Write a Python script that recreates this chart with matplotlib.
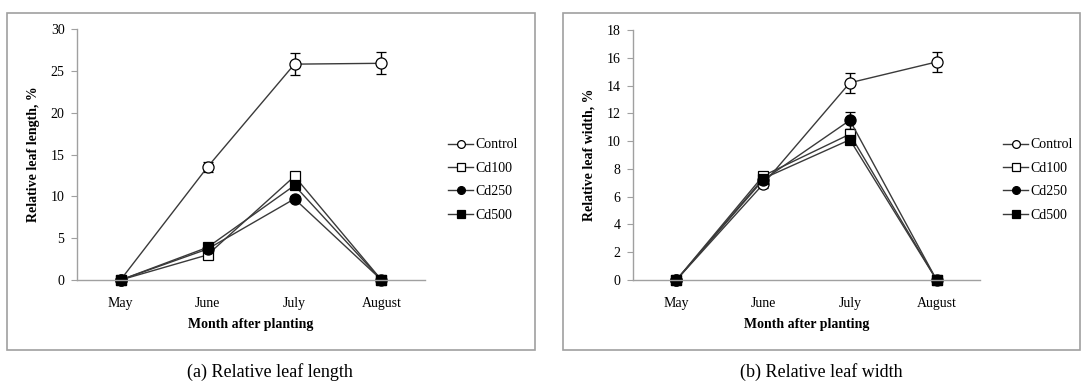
import numpy as np
import matplotlib.pyplot as plt
from matplotlib.patches import Rectangle
from matplotlib.lines import Line2D

plt.rcParams['font.family'] = ['Liberation Serif', 'DejaVu Serif']

months = ["May", "June", "July", "August"]
series = ["Control", "Cd100", "Cd250", "Cd500"]

length_vals = {
    "Control": [0, 13.5, 25.8, 25.9],
    "Cd100": [0, 3.0, 12.4, 0],
    "Cd250": [0, 3.7, 9.7, 0],
    "Cd500": [0, 3.9, 11.3, 0],
}
length_err = {
    "Control": [0, 0.6, 1.3, 1.3],
    "Cd100": [0, 0.3, 0.5, 0],
    "Cd250": [0, 0.2, 0.3, 0],
    "Cd500": [0, 0.2, 0.4, 0],
}
width_vals = {
    "Control": [0, 6.9, 14.2, 15.7],
    "Cd100": [0, 7.5, 10.5, 0],
    "Cd250": [0, 7.2, 11.5, 0],
    "Cd500": [0, 7.3, 10.1, 0],
}
width_err = {
    "Control": [0, 0.3, 0.7, 0.75],
    "Cd100": [0, 0.2, 0.4, 0],
    "Cd250": [0, 0.2, 0.6, 0],
    "Cd500": [0, 0.2, 0.3, 0],
}

styles = {
    "Control": dict(marker="o", mfc="white"),
    "Cd100": dict(marker="s", mfc="white"),
    "Cd250": dict(marker="o", mfc="black"),
    "Cd500": dict(marker="s", mfc="black"),
}

fig = plt.figure(figsize=(10.83, 3.83), dpi=100)

# panel frames
for x0, x1 in [(7, 535), (563, 1080)]:
    fig.patches.append(Rectangle((x0 / 1083, 1 - 350 / 383), (x1 - x0) / 1083, 337 / 383,
                                 transform=fig.transFigure, fill=False,
                                 edgecolor="#a0a0a0", linewidth=1.2))


def panel(rect, vals, errs, ymax, ystep, ylabel, xlabel, legx):
    ax = fig.add_axes(rect)
    x = np.arange(len(months))
    handles = []
    for s in series:
        ms = 8 if styles[s]["marker"] == "o" else 7.5
        ax.errorbar(x, vals[s], yerr=errs[s], color="#3a3a3a", lw=1.0,
                    ecolor="black", elinewidth=1.0, capsize=3.5, capthick=1.0,
                    marker=styles[s]["marker"], mfc=styles[s]["mfc"], mec="black",
                    ms=ms, mew=0.9, clip_on=False)
        handles.append(Line2D([], [], color="#3a3a3a", lw=1.0, marker=styles[s]["marker"],
                              mfc=styles[s]["mfc"], mec="black", ms=ms * 0.7, mew=0.9,
                              label=s))
    ax.set_xlim(-0.5, 3.5)
    ax.set_ylim(0, ymax)
    ax.set_yticks(np.arange(0, ymax + 0.01, ystep))
    ax.set_xticks(x)
    ax.set_xticklabels(months)
    for sp in ["top", "right"]:
        ax.spines[sp].set_visible(False)
    for sp in ["left", "bottom"]:
        ax.spines[sp].set_color("#a0a0a0")
        ax.spines[sp].set_linewidth(1.0)
    ax.tick_params(axis="y", length=4, color="#a0a0a0", labelsize=10, pad=5)
    ax.tick_params(axis="x", length=0, labelsize=10, pad=12)
    ax.set_ylabel(ylabel, fontsize=10, fontweight="bold", labelpad=8)
    ax.set_xlabel(xlabel, fontsize=10, fontweight="bold", labelpad=6)
    fig.legend(handles=handles, loc="center left",
               bbox_to_anchor=(legx, 1 - 180 / 383), frameon=False,
               fontsize=10, handlelength=1.8, handletextpad=0.2,
               labelspacing=0.75, borderaxespad=0, borderpad=0)
    return ax


panel([77 / 1083, 1 - 280 / 383, 348 / 1083, 251 / 383], length_vals, length_err,
      30, 5, "Relative leaf length, %", "Month after planting", 448 / 1083)
panel([633 / 1083, 1 - 280 / 383, 347 / 1083, 250 / 383], width_vals, width_err,
      18, 2, "Relative leaf width, %", "Month after planting", 1003 / 1083)

fig.text(270 / 1083, 1 - 372 / 383, "(a) Relative leaf length", ha="center", va="center", fontsize=13)
fig.text(821 / 1083, 1 - 372 / 383, "(b) Relative leaf width", ha="center", va="center", fontsize=13)

fig.savefig("out.png", dpi=100)
